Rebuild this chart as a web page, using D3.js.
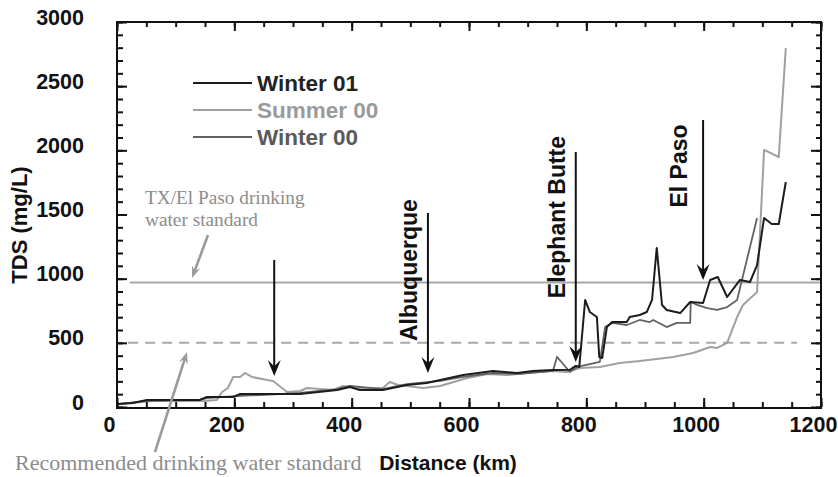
<!DOCTYPE html>
<html><head><meta charset="utf-8">
<script src="https://cdn.jsdelivr.net/npm/d3@7"></script>
<style>body{margin:0;background:#fff}text{font-family:"Liberation Sans",Arial,sans-serif}</style>
</head><body><svg id="c" width="838" height="477"></svg>
<script>
// ---------- data ----------
const xTicks = [0, 200, 400, 600, 800, 1000, 1200];
const yTicks = [0, 500, 1000, 1500, 2000, 2500, 3000];
const seriesNames = ["Winter 01", "Summer 00", "Winter 00"];

// [distance km, TDS mg/L]
const winter01 = [
  [2,23],[27,31],[51,55],[141,55],[153,78],[198,78],[210,101],[312,101],[375,132],[397,156],
  [414,132],[453,132],[494,171],[528,187],[551,210],[590,249],[641,281],[682,265],[709,281],
  [743,288],[772,290],[782,320],[788,312],[798,834],[806,740],[818,701],[822,390],[827,382],
  [835,623],[844,662],[869,662],[874,701],[891,717],[903,740],[912,834],[920,1239],[929,795],
  [937,756],[960,732],[977,818],[999,810],[1011,990],[1024,1013],[1040,857],[1062,990],
  [1079,974],[1091,1106],[1103,1473],[1116,1426],[1128,1426],[1140,1753]
];
const summer00 = [
  [2,23],[61,47],[147,47],[170,55],[179,117],[189,148],[198,234],[210,234],[218,265],[230,234],
  [256,210],[266,203],[290,117],[312,125],[324,148],[368,132],[385,164],[414,148],[453,148],
  [465,195],[479,171],[494,164],[522,148],[551,164],[597,226],[631,257],[665,249],[699,265],
  [743,281],[767,273],[789,304],[823,312],[857,343],[891,358],[948,390],[982,421],[1011,468],
  [1023,460],[1040,499],[1057,701],[1067,795],[1091,896],[1103,2003],[1128,1948],[1140,2797]
];
const winter00 = [
  [2,23],[51,47],[141,55],[153,70],[210,86],[312,109],[375,140],[397,164],[453,140],[494,179],
  [551,203],[590,234],[641,265],[682,257],[743,281],[750,390],[759,343],[772,273],[784,312],
  [806,335],[823,351],[832,623],[844,655],[869,639],[891,678],[908,662],[914,678],[937,623],
  [954,655],[977,655],[978,818],[989,795],[1006,771],[1023,756],[1040,779],[1057,834],[1091,1473]
];

// drinking water standards: level (mg/L), start/end distance (km)
const standards = [
  { value: 970, start: 22, end: 1200, dashed: false },
  { value: 500, start: 19, end: 1159, dashed: true }
];

// location arrows: distance km, TDS at arrow tail / tip, label
const locators = [
  { name: "",               km: 268, tail: 1145, tip: 241 },
  { name: "Albuquerque",    km: 530, tail: 1512, tip: 265, labelKm: 511, labelTds: 1067 },
  { name: "Elephant Butte", km: 782, tail: 1987, tip: 351, labelKm: 764, labelTds: 1480 },
  { name: "El Paso",        km: 999, tail: 2236, tip: 990, labelKm: 972, labelTds: 1878 }
];

// ---------- drawing ----------
const svg = d3.select("#c");
const L = 117, R = 821, T = 22, B = 407;
const x = d3.scaleLinear().domain([0, 1200]).range([L, R]);
const y = d3.scaleLinear().domain([0, 3000]).range([B, T]);

const colors = { "Winter 01": "#1c1c1c", "Summer 00": "#a0a0a0", "Winter 00": "#626262" };
const widths = { "Winter 01": 2, "Summer 00": 2, "Winter 00": 1.8 };
const textColors = { "Winter 01": "#222", "Summer 00": "#9a9a9a", "Winter 00": "#5a5a5a" };

function arrowHead(g, tx, ty, angle, len, wid, color) {
  const p = `M0,0 L${-len},${-wid/2} L${-len*0.62},0 L${-len},${wid/2} Z`;
  g.append("path").attr("d", p).attr("fill", color)
    .attr("transform", `translate(${tx},${ty}) rotate(${angle})`);
}

// standards
standards.forEach(s => {
  svg.append("line")
    .attr("x1", x(s.start)).attr("x2", x(s.end))
    .attr("y1", y(s.value)).attr("y2", y(s.value))
    .attr("stroke", "#a8a8a8").attr("stroke-width", 2)
    .attr("stroke-dasharray", s.dashed ? "10,7" : null);
});

// series
const line = d3.line().x(d => x(d[0])).y(d => y(d[1]));
const seriesData = { "Winter 01": winter01, "Summer 00": summer00, "Winter 00": winter00 };
["Summer 00", "Winter 00", "Winter 01"].forEach(n => {
  svg.append("path").datum(seriesData[n]).attr("d", line)
    .attr("fill", "none").attr("stroke", colors[n]).attr("stroke-width", widths[n])
    .attr("stroke-linejoin", "round");
});

// axes
function styleAxis(g) { g.select(".domain").remove(); g.selectAll("line").attr("stroke", "#111").attr("stroke-width", 2); }
const fontTick = "bold 21.5px 'Liberation Sans', Arial, sans-serif";
const fmt = d3.format("d");

svg.append("g").attr("transform", `translate(0,${B})`)
  .call(d3.axisBottom(x).tickValues(d3.range(0, 1201, 50)).tickSize(-5).tickFormat(""))
  .call(styleAxis);
const xa = svg.append("g").attr("transform", `translate(0,${B})`)
  .call(d3.axisBottom(x).tickValues(xTicks).tickFormat(fmt).tickSizeInner(-9).tickSizeOuter(0).tickPadding(10))
  .call(styleAxis);
xa.selectAll("text").style("font", fontTick).attr("fill", "#111").attr("dx", -8);

svg.append("g").attr("transform", `translate(0,${T})`)
  .call(d3.axisTop(x).tickValues(d3.range(0, 1201, 50)).tickSize(-5).tickFormat("")).call(styleAxis);
svg.append("g").attr("transform", `translate(0,${T})`)
  .call(d3.axisTop(x).tickValues(xTicks).tickSize(-9).tickFormat("")).call(styleAxis);

svg.append("g").attr("transform", `translate(${L},0)`)
  .call(d3.axisLeft(y).tickValues(d3.range(0, 3001, 100)).tickSize(-6).tickFormat("")).call(styleAxis);
const ya = svg.append("g").attr("transform", `translate(${L},0)`)
  .call(d3.axisLeft(y).tickValues(yTicks).tickFormat(fmt).tickSizeInner(-10).tickSizeOuter(0).tickPadding(33))
  .call(styleAxis);
ya.selectAll("text").style("font", fontTick).attr("fill", "#111").attr("dy", "0.1em");

svg.append("g").attr("transform", `translate(${R},0)`)
  .call(d3.axisRight(y).tickValues(d3.range(0, 3001, 100)).tickSize(-5).tickFormat("")).call(styleAxis);
svg.append("g").attr("transform", `translate(${R},0)`)
  .call(d3.axisRight(y).tickValues(yTicks).tickSize(-10).tickFormat("")).call(styleAxis);

// frame
svg.append("rect").attr("x", L).attr("y", T).attr("width", R - L).attr("height", B - T + 1)
  .attr("fill", "none").attr("stroke", "#111").attr("stroke-width", 2);

// axis titles
svg.append("text").attr("x", 448).attr("y", 470).attr("text-anchor", "middle")
  .style("font", "bold 21px 'Liberation Sans', Arial, sans-serif").attr("fill", "#111").text("Distance (km)");
svg.append("text").attr("transform", "translate(27,225) rotate(-90)").attr("text-anchor", "middle")
  .style("font", "bold 22px 'Liberation Sans', Arial, sans-serif").attr("fill", "#111").text("TDS (mg/L)");

// locator arrows
const ag = svg.append("g");
locators.forEach(a => {
  const ax = x(a.km);
  ag.append("line").attr("x1", ax).attr("x2", ax).attr("y1", y(a.tail)).attr("y2", y(a.tip) - 8)
    .attr("stroke", "#111").attr("stroke-width", 2);
  arrowHead(ag, ax, y(a.tip), 90, 16, 13, "#111");
  if (a.name) {
    ag.append("text")
      .attr("transform", `translate(${x(a.labelKm)},${y(a.labelTds)}) rotate(-90)`)
      .attr("text-anchor", "middle")
      .style("font", "bold 23px 'Liberation Sans', Arial, sans-serif").attr("fill", "#111")
      .text(a.name);
  }
});

// legend
seriesNames.forEach((n, i) => {
  const ly = 83 + i * 27;
  svg.append("line").attr("x1", 193).attr("x2", 252).attr("y1", ly).attr("y2", ly)
    .attr("stroke", colors[n]).attr("stroke-width", widths[n]);
  svg.append("text").attr("x", 257).attr("y", ly + 8)
    .style("font", "bold 22.5px 'Liberation Sans', Arial, sans-serif")
    .attr("fill", textColors[n]).text(n);
});

// standard annotations
const serif = "'Liberation Serif','Times New Roman',serif";
svg.append("text").attr("x", 145).attr("y", 204)
  .style("font", `19.3px ${serif}`).attr("fill", "#8c8c8c").text("TX/El Paso drinking");
svg.append("text").attr("x", 145).attr("y", 226)
  .style("font", `19.3px ${serif}`).attr("fill", "#8c8c8c").text("water standard");
svg.append("text").attr("x", 15).attr("y", 470)
  .style("font", `22px ${serif}`).attr("fill", "#8c8c8c").text("Recommended drinking water standard");

function grayArrow(x1, y1, x2, y2) {
  const ang = Math.atan2(y2 - y1, x2 - x1) * 180 / Math.PI;
  const d = Math.hypot(x2 - x1, y2 - y1);
  const ux = (x2 - x1) / d, uy = (y2 - y1) / d;
  svg.append("line").attr("x1", x1).attr("y1", y1).attr("x2", x2 - ux * 7).attr("y2", y2 - uy * 7)
    .attr("stroke", "#9a9a9a").attr("stroke-width", 2.6);
  arrowHead(svg, x2, y2, ang, 12, 9, "#9a9a9a");
}
grayArrow(208, 235, 192, 278);
grayArrow(155, 452, 187, 352);
</script></body></html>
